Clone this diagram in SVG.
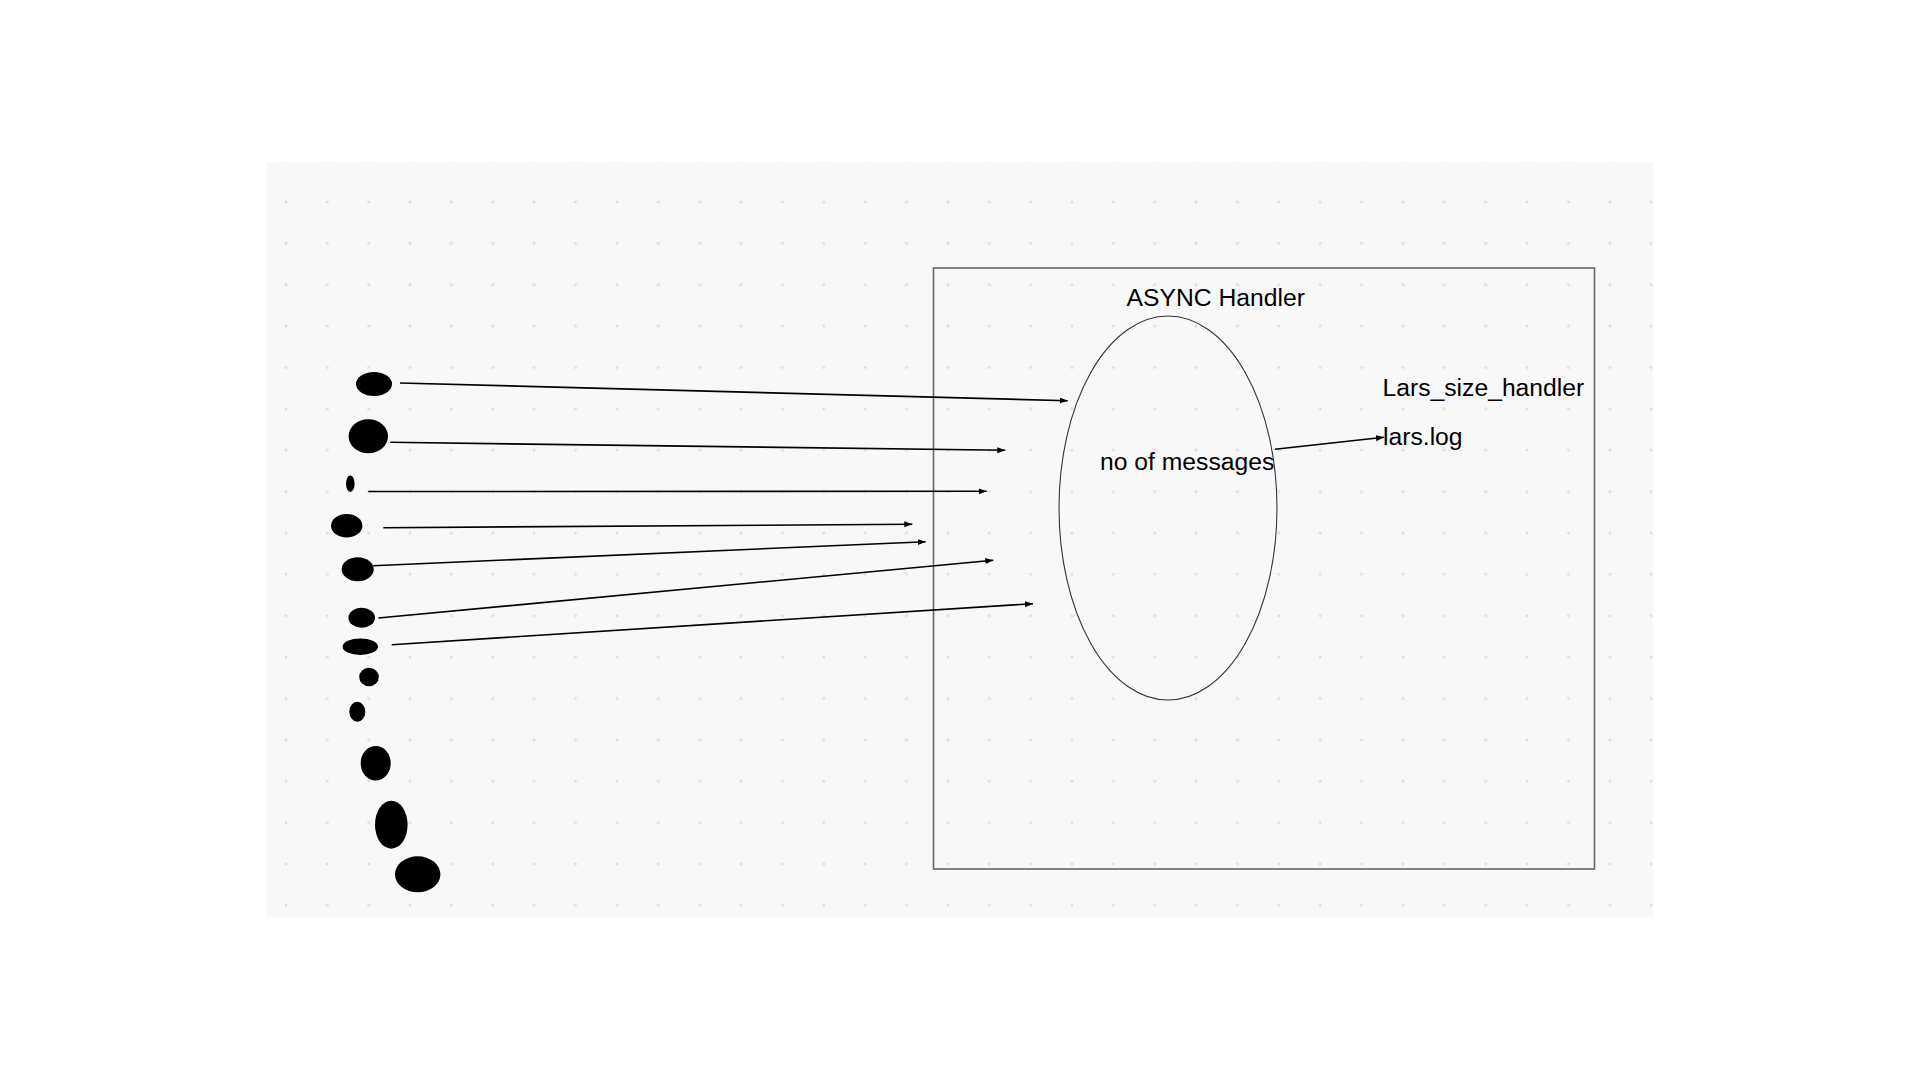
<svg xmlns="http://www.w3.org/2000/svg" width="1920" height="1080" viewBox="0 0 1920 1080">
<defs>
<pattern id="dots" patternUnits="userSpaceOnUse" x="265.3" y="181.3" width="41.37" height="41.37">
<circle cx="20.685" cy="20.685" r="1.5" fill="#dcdcdc"/>
</pattern>
<marker id="arr" markerUnits="userSpaceOnUse" markerWidth="10" markerHeight="8" refX="8" refY="3" orient="auto">
<path d="M0,0 L8,3 L0,6 z" fill="#000"/>
</marker>
<style>
.lbl{font-family:"Liberation Sans",Arial,sans-serif;font-size:24.7px;fill:#000}
.blob{fill:#000}
.conn line{stroke:#000;stroke-width:1.6;marker-end:url(#arr)}
</style>
</defs>
<rect x="0" y="0" width="1920" height="1080" fill="#fff"/>
<rect x="267" y="162" width="1386" height="755" fill="#f8f8f8"/>
<rect x="267" y="162" width="1386" height="755" fill="url(#dots)"/>

<g id="async-handler">
<rect x="933.5" y="268" width="661" height="601" fill="none" stroke="#666" stroke-width="1.6"/>
<text class="lbl" x="1126.5" y="306">ASYNC Handler</text>
</g>
<g id="messages">
<ellipse cx="1168" cy="508" rx="109" ry="192" fill="none" stroke="#333" stroke-width="1.1"/>
<text class="lbl" x="1100" y="470">no of messages</text>
</g>
<g id="lars-size-handler">
<text class="lbl" x="1382.5" y="396">Lars_size_handler</text>
</g>
<g id="lars-log">
<text class="lbl" x="1383" y="445">lars.log</text>
</g>

<g id="blob1"><ellipse class="blob" cx="374" cy="384" rx="18" ry="12"/></g>
<g id="blob2"><ellipse class="blob" cx="368.3" cy="436.3" rx="19.7" ry="17"/></g>
<g id="blob3"><ellipse class="blob" cx="350.3" cy="483.7" rx="4.3" ry="8.3"/></g>
<g id="blob4"><ellipse class="blob" cx="346.7" cy="525.7" rx="15.7" ry="11.7"/></g>
<g id="blob5"><ellipse class="blob" cx="357.7" cy="569.3" rx="16" ry="12"/></g>
<g id="blob6"><ellipse class="blob" cx="361.7" cy="617.7" rx="13.3" ry="10"/></g>
<g id="blob7"><ellipse class="blob" cx="360.3" cy="646.7" rx="17.7" ry="8.3"/></g>
<g id="blob8"><ellipse class="blob" cx="369" cy="677" rx="9.8" ry="9.3"/></g>
<g id="blob9"><ellipse class="blob" cx="357.3" cy="711.7" rx="8" ry="10"/></g>
<g id="blob10"><ellipse class="blob" cx="375.7" cy="763.3" rx="15" ry="17.3"/></g>
<g id="blob11"><ellipse class="blob" cx="391.3" cy="824.7" rx="16.3" ry="24"/></g>
<g id="blob12"><ellipse class="blob" cx="417.7" cy="874.3" rx="22.7" ry="18"/></g>

<g id="connectors" class="conn">
<line x1="400" y1="383" x2="1067.7" y2="400.7"/>
<line x1="390.3" y1="442.3" x2="1005.3" y2="450.3"/>
<line x1="368.3" y1="491.5" x2="986.7" y2="491.3"/>
<line x1="383.3" y1="527.7" x2="912.3" y2="524.3"/>
<line x1="373.3" y1="565.7" x2="925.7" y2="541.7"/>
<line x1="378.3" y1="618" x2="993.3" y2="560.3"/>
<line x1="391.7" y1="644.7" x2="1033" y2="603.7"/>
<line x1="1275" y1="449.3" x2="1384" y2="437.3"/>
</g>
</svg>
